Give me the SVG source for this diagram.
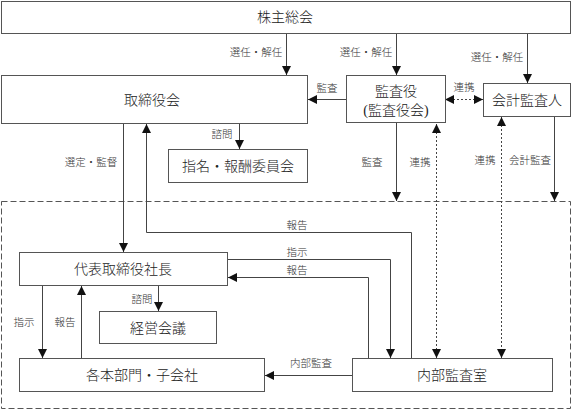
<svg xmlns="http://www.w3.org/2000/svg" width="572" height="411" viewBox="0 0 572 411">
<defs>
<marker id="arr" markerUnits="userSpaceOnUse" markerWidth="9" markerHeight="9" refX="8" refY="4" orient="auto-start-reverse" viewBox="0 0 8 8">
<path d="M0,0 L8,4 L0,8 z" fill="#111"/>
</marker>
<style>
.box{fill:#fff;stroke:#555;stroke-width:1}
.t{font-family:"Liberation Serif","Noto Sans CJK JP",serif;font-size:14px;font-weight:300;fill:#222;text-anchor:middle}
.l{font-family:"Liberation Serif","Noto Sans CJK JP",serif;font-size:10.5px;font-weight:300;fill:#333;text-anchor:middle}
.c{fill:none;stroke:#444;stroke-width:1}
.a{marker-end:url(#arr)}
.d{stroke-dasharray:2,2;marker-start:url(#arr);marker-end:url(#arr)}
.dash{fill:none;stroke:#555;stroke-width:1;stroke-dasharray:6,3}
</style>
</defs>
<rect class="dash" x="1.5" y="201.5" width="569" height="207"/>
<g id="connectors">
<path class="c a" d="M286.5,34 V75"/>
<path class="c a" d="M396.5,34 V75"/>
<path class="c a" d="M527.5,34 V83"/>
<path class="c a" d="M346,99.5 H308"/>
<path class="c d" d="M445,99.5 H483"/>
<path class="c a" d="M123.5,124 V252"/>
<path class="c a" d="M411.5,358 V232.5 H146.5 V124"/>
<path class="c a" d="M239.5,124 V149"/>
<path class="c a" d="M396.5,123 V201"/>
<path class="c a" d="M554.5,117 V201"/>
<path class="c d" d="M436.5,124 V358"/>
<path class="c d" d="M501.5,117 V358"/>
<path class="c a" d="M228,259.5 H390.5 V358"/>
<path class="c a" d="M368.5,358 V277.5 H228"/>
<path class="c a" d="M158.5,286 V311"/>
<path class="c a" d="M42.5,286 V358"/>
<path class="c a" d="M81.5,358 V286"/>
<path class="c a" d="M352,375.5 H265"/>
<text class="l" x="256" y="56">選任・解任</text>
<text class="l" x="366" y="56">選任・解任</text>
<text class="l" x="497" y="61">選任・解任</text>
<text class="l" x="327" y="92">監査</text>
<text class="l" x="464" y="91">連携</text>
<text class="l" x="222" y="138">諮問</text>
<text class="l" x="91" y="166">選定・監督</text>
<text class="l" x="372" y="166">監査</text>
<text class="l" x="420" y="166">連携</text>
<text class="l" x="485" y="164">連携</text>
<text class="l" x="530" y="164">会計監査</text>
<text class="l" x="297" y="229">報告</text>
<text class="l" x="297" y="256">指示</text>
<text class="l" x="297" y="274">報告</text>
<text class="l" x="142" y="303">諮問</text>
<text class="l" x="24" y="326">指示</text>
<text class="l" x="65" y="326">報告</text>
<text class="l" x="311" y="367">内部監査</text>
</g>
<g id="n-shareholders"><rect class="box" x="1.5" y="1.5" width="569" height="32"/><text class="t" x="285" y="22">株主総会</text></g>
<g id="n-board"><rect class="box" x="1.5" y="75.5" width="306" height="48"/><text class="t" x="152" y="105">取締役会</text></g>
<g id="n-auditors"><rect class="box" x="346.5" y="75.5" width="99" height="47"/><text class="t" x="396" y="96">監査役</text><text class="t" x="396" y="115">(監査役会)</text></g>
<g id="n-accounting"><rect class="box" x="483.5" y="83.5" width="87" height="33"/><text class="t" x="527" y="105">会計監査人</text></g>
<g id="n-committee"><rect class="box" x="168.5" y="149.5" width="139" height="33"/><text class="t" x="238" y="171">指名・報酬委員会</text></g>
<g id="n-president"><rect class="box" x="19.5" y="252.5" width="208" height="33"/><text class="t" x="123" y="274">代表取締役社長</text></g>
<g id="n-mgmt"><rect class="box" x="99.5" y="311.5" width="117" height="32"/><text class="t" x="158" y="333">経営会議</text></g>
<g id="n-divisions"><rect class="box" x="19.5" y="358.5" width="245" height="33"/><text class="t" x="142" y="380">各本部門・子会社</text></g>
<g id="n-internal"><rect class="box" x="352.5" y="358.5" width="200" height="33"/><text class="t" x="452" y="380">内部監査室</text></g>
</svg>
